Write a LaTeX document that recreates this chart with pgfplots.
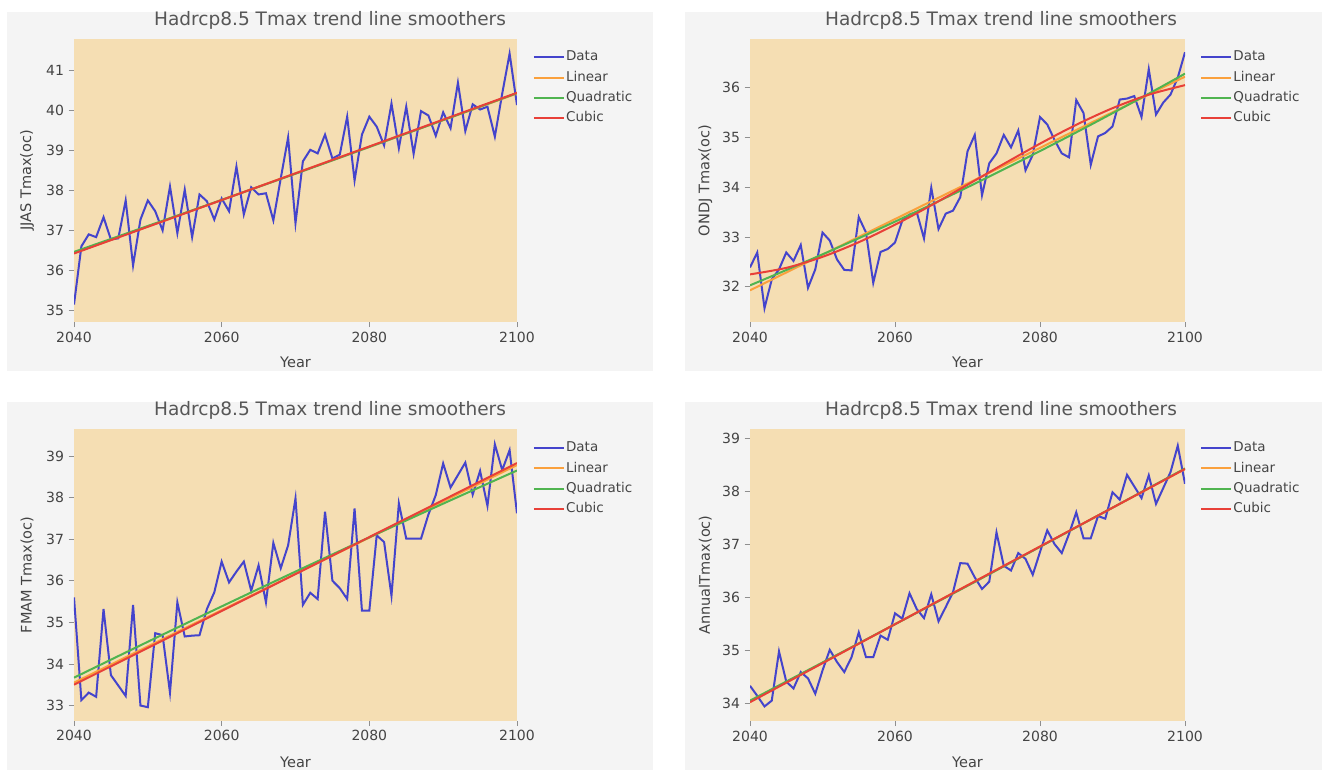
\documentclass[border=0pt]{standalone}
\usepackage{fontspec}
\setmainfont{DejaVu Sans}
\usepackage{pgfplots}
\usepackage{pgfplotstable}
\pgfplotsset{compat=1.18}
\definecolor{bgpanel}{HTML}{F4F4F4}
\definecolor{plotbg}{RGB}{245,222,179}
\definecolor{cdata}{RGB}{68,68,204}
\definecolor{clin}{RGB}{250,160,60}
\definecolor{cquad}{RGB}{80,180,80}
\definecolor{ccub}{RGB}{232,64,56}
\definecolor{txt}{HTML}{444444}

\pgfplotstableread{
year jjas ondj fmam annual
2040 35.14 32.39 35.60 34.33
2041 36.60 32.69 33.13 34.14
2042 36.90 31.57 33.31 33.94
2043 36.83 32.15 33.21 34.05
2044 37.33 32.35 35.32 34.98
2045 36.77 32.69 33.73 34.41
2046 36.80 32.52 33.48 34.28
2047 37.75 32.84 33.23 34.59
2048 36.12 31.98 35.42 34.47
2049 37.27 32.35 33.00 34.18
2050 37.75 33.09 32.96 34.62
2051 37.48 32.93 34.74 35.01
2052 37.00 32.55 34.69 34.78
2053 38.10 32.34 33.31 34.59
2054 36.93 32.33 35.48 34.87
2055 38.02 33.40 34.66 35.34
2056 36.83 33.09 34.68 34.87
2057 37.90 32.08 34.69 34.87
2058 37.73 32.70 35.32 35.28
2059 37.27 32.76 35.72 35.20
2060 37.80 32.89 36.46 35.70
2061 37.48 33.33 35.96 35.60
2062 38.60 33.45 36.22 36.08
2063 37.40 33.50 36.46 35.78
2064 38.08 32.97 35.76 35.61
2065 37.90 33.99 36.37 36.06
2066 37.93 33.16 35.48 35.55
2067 37.25 33.47 36.91 35.82
2068 38.30 33.53 36.30 36.10
2069 39.33 33.80 36.85 36.65
2070 37.18 34.72 37.98 36.64
2071 38.73 35.05 35.42 36.38
2072 39.02 33.84 35.71 36.16
2073 38.93 34.48 35.56 36.30
2074 39.40 34.68 37.66 37.23
2075 38.80 35.05 36.00 36.60
2076 38.90 34.80 35.82 36.51
2077 39.85 35.14 35.56 36.84
2078 38.25 34.34 37.74 36.73
2079 39.40 34.65 35.28 36.43
2080 39.85 35.41 35.28 36.86
2081 39.60 35.26 37.09 37.27
2082 39.13 34.95 36.93 37.01
2083 40.18 34.68 35.64 36.84
2084 39.06 34.60 37.86 37.20
2085 40.10 35.75 37.01 37.61
2086 38.92 35.49 37.01 37.12
2087 39.99 34.45 37.01 37.12
2088 39.88 35.02 37.59 37.54
2089 39.37 35.09 38.06 37.49
2090 39.96 35.22 38.82 37.99
2091 39.56 35.76 38.24 37.85
2092 40.70 35.78 38.54 38.32
2093 39.49 35.83 38.84 38.10
2094 40.16 35.41 38.07 37.88
2095 40.03 36.37 38.64 38.31
2096 40.10 35.46 37.80 37.77
2097 39.35 35.70 39.28 38.07
2098 40.43 35.86 38.66 38.37
2099 41.43 36.20 39.14 38.87
2100 40.14 36.71 37.62 38.15
}\datatab

\pgfplotsset{
  panel/.style={
    scale only axis,
    xmin=2040, xmax=2100,
    xtick={2040,2060,2080,2100},
    ytick distance=1,
    axis background/.style={fill=plotbg},
    axis line style={draw=none},
    tick align=outside,
    major tick length=4pt,
    tick style={color=txt!60, line width=0.6pt},
    xtick pos=bottom, ytick pos=left,
    ticklabel style={font=\fontsize{10.5}{12}\selectfont, text=txt},
    /pgf/number format/assume math mode=true,
    /pgf/number format/1000 sep={},
    label style={font=\fontsize{10.9}{12}\selectfont, text=txt},
    title style={font=\fontsize{13.9}{16}\selectfont, text=txt!90, at={(axis description cs:0.578,1.040)}, anchor=center},
    title={Hadrcp8.5 Tmax trend line smoothers},
    xlabel={Year},
    xlabel style={at={(axis description cs:0.5,-0.145)}, anchor=center},
    ylabel style={at={(axis description cs:-0.106,0.5)}, anchor=center},
    legend style={at={(1.035,0.965)}, anchor=north west, draw=none, fill=none, inner sep=0pt,
      font=\fontsize{10.1}{12}\selectfont, text=txt, row sep=3.8pt,
      nodes={inner sep=1pt, text height=0.75em, text depth=0.2em}},
    legend cell align=left,
    legend image code/.code={\draw[#1] (0pt,0pt) -- (22.5pt,0pt);},
    every axis plot/.append style={line width=1.5pt, mark=none},
  },
}

\begin{document}
\begin{tikzpicture}
\useasboundingbox (0,0) rectangle (992.25pt,576.75pt);
\clip (0,0) rectangle (992.25pt,576.75pt);
\fill[white] (0,0) rectangle (992.25pt,576.75pt);
\fill[bgpanel] (5.25pt,298.5pt) rectangle (489.75pt,567.75pt);
\fill[bgpanel] (513.75pt,298.5pt) rectangle (991.5pt,567.75pt);
\fill[bgpanel] (5.25pt,-5pt) rectangle (489.75pt,275.25pt);
\fill[bgpanel] (513.75pt,-5pt) rectangle (991.5pt,275.25pt);

% Panel 1: JJAS
\begin{axis}[panel, at={(55.5pt,335.475pt)}, anchor=south west,
  width=332.25pt, height=211.8pt, ymin=34.71, ymax=41.79,
  ylabel={JJAS Tmax(oc)}]
\addplot[cdata] table[x=year,y=jjas] {\datatab};
\addplot[clin] coordinates {(2040,36.43) (2100,40.43)};
\addplot[cquad, smooth] coordinates {(2040,36.46) (2070,38.42) (2100,40.44)};
\addplot[ccub, smooth] coordinates {(2040,36.42) (2070,38.43) (2100,40.45)};
\legend{Data,Linear,Quadratic,Cubic}
\end{axis}

% Panel 2: ONDJ
\begin{axis}[panel, at={(562.5pt,335.475pt)}, anchor=south west,
  width=326.25pt, height=211.8pt, ymin=31.30, ymax=36.97,
  ylabel={ONDJ Tmax(oc)},
  ylabel style={at={(axis description cs:-0.103,0.5)}},
  title style={at={(axis description cs:0.577,1.040)}},
  legend style={at={(1.034,0.965)}}]
\addplot[cdata] table[x=year,y=ondj] {\datatab};
\addplot[clin] coordinates {(2040,31.93) (2100,36.22)};
\addplot[cquad, smooth] coordinates {(2040,32.03) (2045,32.337) (2050,32.652) (2055,32.976) (2060,33.309) (2065,33.650) (2070,34.0) (2075,34.359) (2080,34.726) (2085,35.101) (2090,35.486) (2095,35.878) (2100,36.28)};
\addplot[ccub, smooth] coordinates {(2040,32.25) (2045,32.381) (2050,32.602) (2055,32.896) (2060,33.247) (2065,33.637) (2070,34.05) (2075,34.468) (2080,34.875) (2085,35.254) (2090,35.587) (2095,35.858) (2100,36.05)};
\legend{Data,Linear,Quadratic,Cubic}
\end{axis}

% Panel 3: FMAM
\begin{axis}[panel, at={(55.5pt,36.375pt)}, anchor=south west,
  width=332.25pt, height=218.4pt, ymin=32.64, ymax=39.64,
  ylabel={FMAM Tmax(oc)},
  title style={at={(axis description cs:0.578,1.0385)}},
  xlabel style={at={(axis description cs:0.5,-0.1425)}},
  legend style={at={(1.035,0.963)}}]
\addplot[cdata] table[x=year,y=fmam] {\datatab};
\addplot[clin] coordinates {(2040,33.55) (2100,38.78)};
\addplot[cquad, smooth] coordinates {(2040,33.67) (2050,34.533) (2060,35.383) (2070,36.22) (2080,37.043) (2090,37.853) (2100,38.65)};
\addplot[ccub, smooth] coordinates {(2040,33.50) (2070,36.16) (2100,38.83)};
\legend{Data,Linear,Quadratic,Cubic}
\end{axis}

% Panel 4: Annual
\begin{axis}[panel, at={(562.5pt,36.225pt)}, anchor=south west,
  width=326.25pt, height=218.55pt, ymin=33.67, ymax=39.18,
  ylabel={AnnualTmax(oc)},
  ylabel style={at={(axis description cs:-0.103,0.5)}},
  title style={at={(axis description cs:0.577,1.0385)}},
  xlabel style={at={(axis description cs:0.5,-0.1425)}},
  legend style={at={(1.034,0.963)}}]
\addplot[cdata] table[x=year,y=annual] {\datatab};
\addplot[clin] coordinates {(2040,34.03) (2100,38.43)};
\addplot[cquad, smooth] coordinates {(2040,34.05) (2070,36.22) (2100,38.44)};
\addplot[ccub, smooth] coordinates {(2040,34.02) (2070,36.23) (2100,38.43)};
\legend{Data,Linear,Quadratic,Cubic}
\end{axis}
\end{tikzpicture}
\end{document}
